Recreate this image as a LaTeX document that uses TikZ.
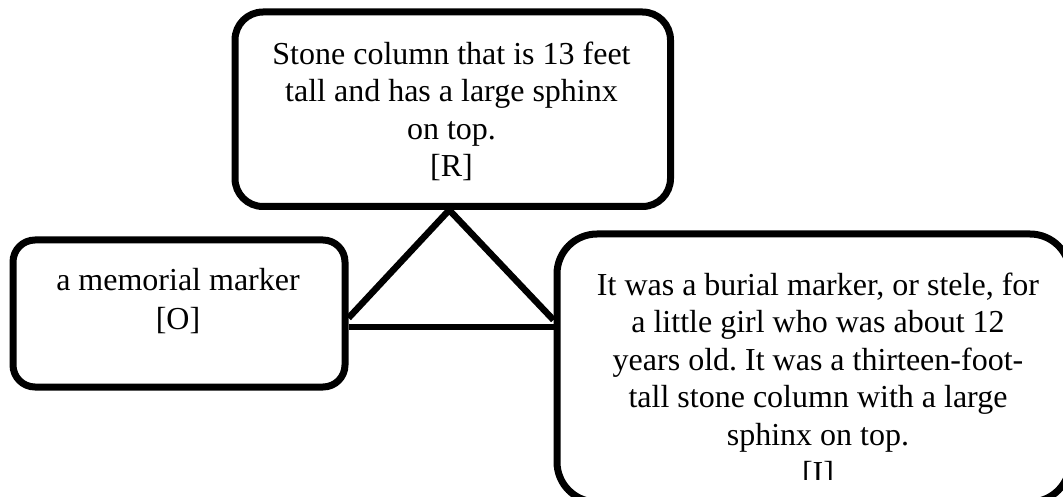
\documentclass[tikz,border=0pt]{standalone}
\usepackage{fontspec}
\setmainfont{Liberation Serif}
\usetikzlibrary{calc}
\frenchspacing
\begin{document}
\begin{tikzpicture}[x=1pt,y=-1pt,
  box/.style={draw, line width=7pt, inner sep=0pt, rounded corners=#1},
  box/.default=28pt,
  txt/.style={align=center, inner sep=0pt, font=\fontsize{32}{37.6}\selectfont},
  link/.style={line width=6.5pt, line join=miter}]
\useasboundingbox (0,0) rectangle (1063,497);

% boxes
\node[box=28pt, minimum width=435.5pt, minimum height=194.5pt] (R) at (452.75,109.25) {};
\node[box=22pt, minimum width=332pt, minimum height=147pt] (O) at (179,313.5) {};
\node[box=40pt, minimum width=513pt, minimum height=268pt] (I) at (813.5,368) {};

% texts (anchored at the baseline of their last line)
\node[txt, anchor=base] (Rtext) at (451.5,177) {Stone column that is 13 feet\\tall and has a large sphinx\\on top.\\{[R]}};
\node[txt, anchor=base, font=\fontsize{32}{39.5}\selectfont] (Otext) at (178,329.5) {a memorial marker\\{[O]}};
\begin{scope}
  \clip (500,200) rectangle (1063,479);
  \node[txt, anchor=base] (Itext) at (818,483) {It was a burial marker, or stele, for\\a little girl who was about 12\\years old. It was a thirteen-foot-\\tall stone column with a large\\sphinx on top.\\{[I]}};
\end{scope}

% connectors
\coordinate (apex) at ($(R.south)+(-3.5,0)$);
\coordinate (ol) at ($(O.east)+(0,4.5)$);
\coordinate (oh) at ($(O.east)+(0,13.5)$);
\coordinate (ir) at (I.west |- 0,320);
\coordinate (ih) at (I.west |- oh);
\draw[link] (ol) -- (apex) -- (ir);
\draw[link] (oh) -- (ih);
\end{tikzpicture}
\end{document}
